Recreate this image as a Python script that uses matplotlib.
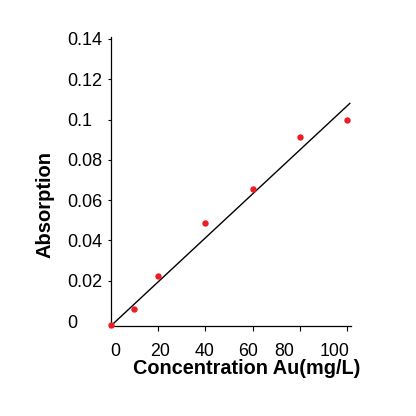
import numpy as np
import matplotlib
matplotlib.use("Agg")
import matplotlib.pyplot as plt

# data
conc = [0, 10, 20, 40, 60, 80, 100]
absorb = [-0.002, 0.006, 0.0223, 0.0486, 0.0657, 0.0912, 0.0998]
fit_x = [0, 101]
fit_y = [-0.0025, 0.108]
yticks = [0, 0.02, 0.04, 0.06, 0.08, 0.10, 0.12, 0.14]
ylabels = ["0", "0.02", "0.04", "0.06", "0.08", "0.1", "0.12", "0.14"]
xticks = [0, 20, 40, 60, 80, 100]
xlabels = ["0", "20", "40", "60", "80", "100"]

plt.rcParams['font.family'] = ['Liberation Sans', 'DejaVu Sans']

fig = plt.figure(figsize=(4.16, 4.16), dpi=100)
W = H = 416.0
ax = fig.add_axes([110.7 / W, 1 - 325.7 / H, (351 - 110.7) / W, (325.7 - 36.7) / H])

ax.plot(fit_x, fit_y, color='black', lw=1.0, zorder=2)
ax.plot(conc, absorb, 'o', color='#ee1c25', ms=4.6, mec='none', zorder=3, clip_on=False)

ax.set_xlim(0, 101.5)
ax.set_ylim(-0.00233, 0.1411)

for s in ['top', 'right']:
    ax.spines[s].set_visible(False)
for s in ['left', 'bottom']:
    ax.spines[s].set_linewidth(0.9)

ax.set_yticks(yticks, ylabels)
ax.tick_params(axis='y', length=2.5, width=0.8, pad=29, labelsize=13)
for lab in ax.get_yticklabels():
    lab.set_horizontalalignment('left')
ax.yaxis.get_major_ticks()[0].tick1line.set_visible(False)

ax.set_xticks(xticks)
ax.set_xticklabels([])
ax.tick_params(axis='x', length=3.5, width=0.8)
ax.xaxis.get_major_ticks()[0].tick1line.set_visible(False)

# x tick labels sit a little off their ticks in the reference
label_pos = [1.9, 20.9, 39.5, 58.2, 73.2, 94.5]
for xp, lab in zip(label_pos, xlabels):
    ax.text(xp, -(356.5 - 325.7) / 289, lab, transform=ax.get_xaxis_transform(),
            ha='center', va='baseline', fontsize=12.8)

fig.text(246.7 / W, 1 - 374 / H, "Concentration Au(mg/L)", ha='center',
         va='baseline', fontsize=14.3, fontweight='bold')
fig.text(45 / W, 1 - 204 / H, "Absorption", rotation=90, ha='center',
         va='center', fontsize=14.5, fontweight='bold')

fig.savefig("out.png", dpi=100)
